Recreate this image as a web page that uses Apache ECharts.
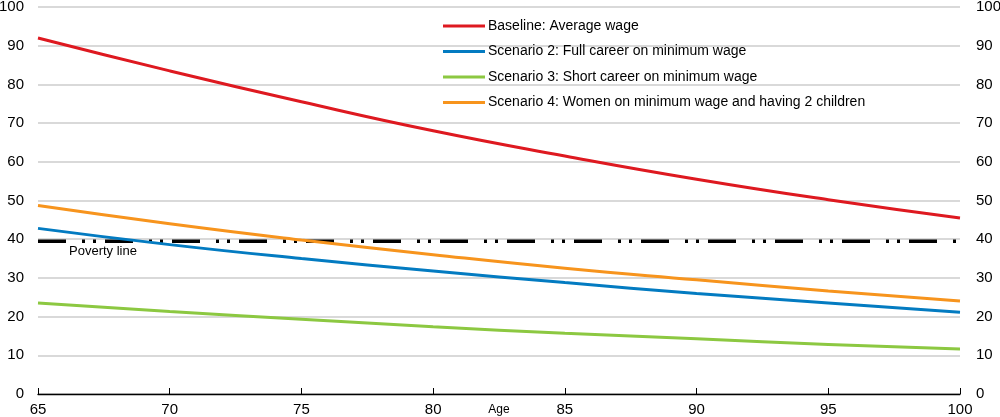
<!DOCTYPE html>
<html><head><meta charset="utf-8">
<script src="https://cdn.jsdelivr.net/npm/echarts@6/dist/echarts.min.js"></script>
<style>html,body{margin:0;padding:0;background:#fff}#c{width:1000px;height:417px}</style>
</head><body><div id="c"></div>
<script>
const ages = [65, 70, 75, 80, 85, 90, 95, 100];
const baseline = [92, 83.5, 75.5, 68, 61.5, 55.5, 50.2, 45.5];
const scenario2 = [42.8, 38.6, 35, 31.8, 28.8, 26, 23.5, 21.1];
const scenario3 = [23.5, 21.3, 19.3, 17.4, 15.7, 14.3, 12.8, 11.6];
const scenario4 = [48.7, 44, 39.8, 36, 32.5, 29.5, 26.6, 24];
const povertyLine = 39.5;
const seriesNames = ['Baseline: Average wage', 'Scenario 2: Full career on minimum wage', 'Scenario 3: Short career on minimum wage', 'Scenario 4: Women on minimum wage and having 2 children'];
const yTicks = [0,10,20,30,40,50,60,70,80,90,100];

const FONT = '"Liberation Sans Narrow", "Arial Narrow", "Liberation Sans", Arial, sans-serif';
const colors = ['#DE1920', '#037BC1', '#8CC841', '#F7941D'];
const pair = (arr) => ages.map((a, i) => [a, arr[i]]);
const chart = echarts.init(document.getElementById('c'));
const lineSeries = [baseline, scenario2, scenario3, scenario4].map((d, i) => ({
  name: seriesNames[i], type: 'line', data: pair(d), smooth: true, symbol: 'none',
  lineStyle: { width: 3, color: colors[i] }, itemStyle: { color: colors[i] }, z: 3
}));
chart.setOption({
  animation: false,
  grid: { left: 38, right: 40, top: 7, bottom: 23, containLabel: false, outerBoundsMode: 'none' },
  legend: {
    data: seriesNames, orient: 'vertical', left: 443, top: 18, itemGap: 9.5, padding: 0,
    itemWidth: 42, itemHeight: 3, icon: 'rect',
    textStyle: { fontFamily: FONT, fontSize: 14, lineHeight: 16, color: '#000', padding: [0,0,0,-2] }
  },
  xAxis: {
    type: 'value', min: 65, max: 100, interval: 5,
    name: 'Age', nameLocation: 'middle', nameGap: 10, nameMoveOverlap: false,
    nameTextStyle: { fontFamily: FONT, fontSize: 12, color: '#000', verticalAlign: 'top' },
    axisLine: { show: true, lineStyle: { color: '#000', width: 1.3 } },
    axisTick: { show: true, inside: true, length: 6, lineStyle: { color: '#000' } },
    axisLabel: { fontFamily: FONT, fontSize: 15, color: '#000', margin: 8 },
    splitLine: { show: false }
  },
  yAxis: [
    { type: 'value', min: 0, max: 100, interval: 10, position: 'left',
      axisLine: { show: false }, axisTick: { show: false },
      axisLabel: { fontFamily: FONT, fontSize: 15, color: '#000', margin: 14 },
      splitLine: { show: true, lineStyle: { color: '#cccccc', width: 1.5 } } },
    { type: 'value', min: 0, max: 100, interval: 10, position: 'right',
      axisLine: { show: false }, axisTick: { show: false },
      axisLabel: { fontFamily: FONT, fontSize: 15, color: '#000', margin: 16 },
      splitLine: { show: false } }
  ],
  series: [
    ...lineSeries,
    { name: 'Poverty line', type: 'line', data: [[65, povertyLine], [100, povertyLine]],
      symbol: 'none', z: 2, silent: true,
      lineStyle: { color: '#000', width: 3.5, type: [28, 16, 3, 8, 3, 9] } }
  ],
  graphic: [
    { type: 'text', left: 69, top: 245,
      style: { text: 'Poverty line', fontFamily: FONT, fontSize: 13, fill: '#000' } }
  ]
});
</script>
</body></html>
